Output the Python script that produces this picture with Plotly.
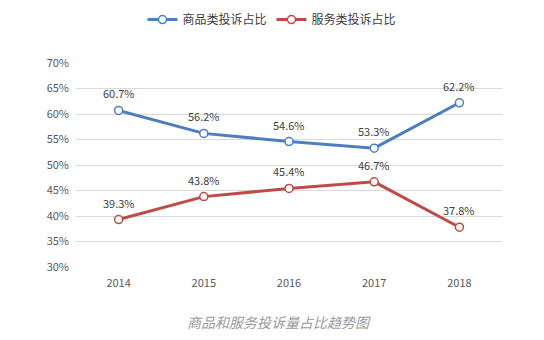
import plotly.graph_objects as go

years = ["2014", "2015", "2016", "2017", "2018"]
goods = [60.7, 56.2, 54.6, 53.3, 62.2]
services = [39.3, 43.8, 45.4, 46.7, 37.8]
series_names = ["商品类投诉占比", "服务类投诉占比"]
colors = ["#4F7EBE", "#BE4B48"]
y_ticks = [30, 35, 40, 45, 50, 55, 60, 65, 70]
caption = "商品和服务投诉量占比趋势图"

FONT = "Noto Sans CJK SC, Microsoft YaHei, sans-serif"

fig = go.Figure()
annotations = []
for name, vals, c in zip(series_names, [goods, services], colors):
    fig.add_trace(go.Scatter(
        x=years, y=vals, name=name, mode="lines+markers",
        line=dict(color=c, width=3),
        marker=dict(symbol="circle", size=8, color="white", line=dict(color=c, width=1.5)),
        cliponaxis=False,
    ))
    for i, v in enumerate(vals):
        annotations.append(dict(x=i, y=v, xref="x", yref="y", text=f"{v:.1f}%",
                                showarrow=False, yshift=17, xanchor="center",
                                yanchor="middle",
                                font=dict(family=FONT, size=11, color="#404040")))

annotations.append(dict(text=f"<i>{caption}</i>", xref="paper", yref="paper", x=0.477,
                        y=-0.27, xanchor="center", yanchor="middle", showarrow=False,
                        font=dict(family=FONT, size=14, color="#9A9A9A")))

fig.update_layout(
    width=544, height=340,
    margin=dict(l=76, r=42, t=63, b=73),
    paper_bgcolor="white", plot_bgcolor="white",
    font=dict(family=FONT, size=11, color="#595959"),
    showlegend=True,
    legend=dict(orientation="h", x=0.46, xanchor="center", y=0.985, yanchor="top",
                yref="container", font=dict(family=FONT, size=12, color="#404040"),
                itemwidth=30, tracegroupgap=0),
    xaxis=dict(type="category", range=[-0.5, 4.5], showgrid=False, zeroline=False,
               showline=False, ticks="", ticklabelstandoff=8,
               tickfont=dict(size=11, color="#595959")),
    yaxis=dict(range=[30, 70], tickvals=y_ticks, ticktext=[f"{v}%" for v in y_ticks],
               showgrid=True, gridcolor="#D9D9D9", gridwidth=1, zeroline=False,
               showline=False, ticks="", ticklabelstandoff=6,
               tickfont=dict(size=11, color="#595959")),
    annotations=annotations,
)

fig.write_html("out.html")
